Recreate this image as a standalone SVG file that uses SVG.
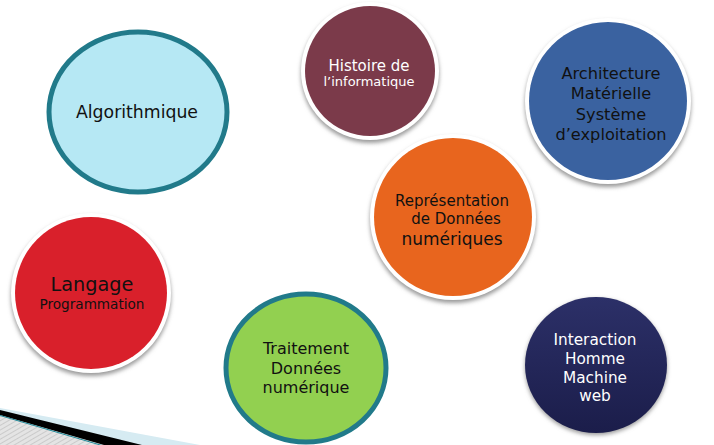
<svg xmlns="http://www.w3.org/2000/svg" width="714" height="445" viewBox="0 0 714 445">
<defs>
<style>
text{font-family:"DejaVu Sans","Verdana",sans-serif;text-anchor:middle}
.dk{fill:#111}
.wt{fill:#fff}
.rim{fill:#fff}
.teal{stroke:#217a8a;stroke-width:5}
</style>
<filter id="sh" x="-20%" y="-20%" width="140%" height="140%"><feGaussianBlur stdDeviation="2"/></filter>
<linearGradient id="navy" x1="0" y1="0" x2="0" y2="1"><stop offset="0" stop-color="#2c3068"/><stop offset="1" stop-color="#1b1d4a"/></linearGradient>
<pattern id="hatch" width="4" height="4" patternUnits="userSpaceOnUse" patternTransform="rotate(60)"><rect width="4" height="4" fill="#e4e4e4"/><line x1="0" y1="0" x2="0" y2="4" stroke="#b0b0b0" stroke-width="1"/></pattern>
</defs>
<rect width="714" height="445" fill="#fff"/>
<g id="corner">
<polygon points="0,408 200,445 0,445" fill="#d6ebf2"/>
<polygon points="0,414 106,445 0,445" fill="url(#hatch)"/>
<polygon points="0,410 142,445 104,445 0,415" fill="#000"/>
<line x1="0" y1="415.5" x2="102" y2="445.5" stroke="#1f8a9a" stroke-width="1"/>
</g>
<g id="connectors"/>
<g id="algorithmique">
<ellipse cx="138" cy="112" rx="89" ry="80" fill="#b6e8f4" class="teal"/>
<text x="137" y="118" font-size="17.3" class="dk">Algorithmique</text>
</g>
<g id="histoire">
<circle cx="370" cy="74" r="69" fill="#999" filter="url(#sh)"/>
<circle cx="370" cy="71" r="69" class="rim"/>
<circle cx="370" cy="71" r="65" fill="#7b3a4a"/>
<text x="369" y="71" font-size="15" class="wt">Histoire de</text>
<text x="369" y="86" font-size="13" class="wt">l’informatique</text>
</g>
<g id="representation">
<circle cx="453" cy="220" r="83" fill="#999" filter="url(#sh)"/>
<circle cx="453" cy="217" r="83" class="rim"/>
<circle cx="453" cy="217" r="79" fill="#e8651e"/>
<text x="452" y="206" font-size="15" class="dk">Représentation</text>
<text x="456" y="224" font-size="15" class="dk">de Données</text>
<text x="452" y="245" font-size="17" class="dk">numériques</text>
</g>
<g id="architecture">
<circle cx="608" cy="104" r="83" fill="#999" filter="url(#sh)"/>
<circle cx="608" cy="101" r="83" class="rim"/>
<circle cx="608" cy="101" r="79" fill="#3a62a0"/>
<text x="611" y="79" font-size="16.2" class="dk">Architecture</text>
<text x="611" y="99" font-size="16.2" class="dk">Matérielle</text>
<text x="611" y="120" font-size="16.2" class="dk">Système</text>
<text x="611" y="140" font-size="16.2" class="dk">d’exploitation</text>
</g>
<g id="langage">
<circle cx="91" cy="296" r="80" fill="#999" filter="url(#sh)"/>
<circle cx="91" cy="293" r="80" class="rim"/>
<circle cx="91" cy="293" r="76" fill="#d9202b"/>
<text x="92" y="291" font-size="19.3" class="dk">Langage</text>
<text x="92" y="309" font-size="13.6" class="dk">Programmation</text>
</g>
<g id="traitement">
<ellipse cx="306" cy="368" rx="80" ry="74" fill="#92d050" class="teal"/>
<text x="306" y="354" font-size="16" class="dk">Traitement</text>
<text x="306" y="374" font-size="16" class="dk">Données</text>
<text x="306" y="393" font-size="16" class="dk">numérique</text>
</g>
<g id="interaction">
<ellipse cx="596" cy="367" rx="71" ry="68" fill="#999" filter="url(#sh)"/>
<ellipse cx="596" cy="365" rx="71" ry="68" fill="url(#navy)"/>
<text x="595" y="345" font-size="15.3" class="wt">Interaction</text>
<text x="595" y="364" font-size="15.3" class="wt">Homme</text>
<text x="595" y="383" font-size="15.3" class="wt">Machine</text>
<text x="595" y="401" font-size="15.3" class="wt">web</text>
</g>
</svg>
